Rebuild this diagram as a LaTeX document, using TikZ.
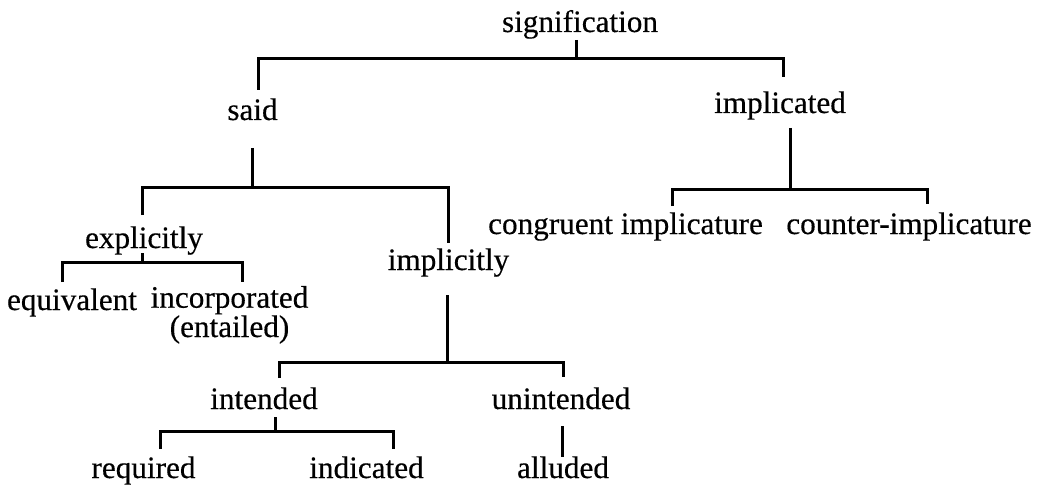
\documentclass[tikz,border=0pt]{standalone}
\usepackage{fontspec}
\setmainfont[FakeBold=0.4]{Liberation Serif}
\usetikzlibrary{calc}
\begin{document}
\begin{tikzpicture}[x=1pt,y=-1pt,
  term/.style={anchor=base,inner sep=0pt,font=\fontsize{31.2}{27}\selectfont},
  branch/.style={line width=3pt,line join=miter,line cap=butt}]
\useasboundingbox (0,0) rectangle (1040,489);

% terms (placed on their baselines; a two-line term sits on its last line)
\node[term] (sig)   at (580,32)   {signification};
\node[term] (said)  at (252.5,120) {said};
\node[term] (impl)  at (780,113)  {implicated};
\node[term] (cong)  at (625.5,234) {congruent implicature};
\node[term] (cnt)   at (909,234)  {counter-implicature};
\node[term] (expl)  at (144,248)  {explicitly};
\node[term] (impy)  at (448.5,270) {implicitly};
\node[term] (equ)   at (72,310)   {equivalent};
\node[term,align=center] (inc) at (229.5,337) {incorporated\\(entailed)};
\node[term] (int)   at (264,409)  {intended};
\node[term] (unint) at (561,409)  {unintended};
\node[term] (req)   at (143.5,478) {required};
\node[term] (ind)   at (366.5,478) {indicated};
\node[term] (all)   at (563,478)  {alluded};

% junctions where each stem meets its bar
\coordinate (j-sig)  at (576,59);
\coordinate (j-said) at (252,187);
\coordinate (j-impl) at (790,189);
\coordinate (j-expl) at (142,262);
\coordinate (j-impy) at (447,362);
\coordinate (j-int)  at (275,431);

% lower ends of the drops
\coordinate (t-said)  at (258,90);
\coordinate (t-impl)  at (783,77);
\coordinate (t-expl)  at (142,215);
\coordinate (t-impy)  at (448,243);
\coordinate (t-cong)  at (672,206);
\coordinate (t-cnt)   at (927,204);
\coordinate (t-equ)   at (62,282);
\coordinate (t-inc)   at (242,282);
\coordinate (t-int)   at (279,378);
\coordinate (t-unint) at (563,377);
\coordinate (t-req)   at (160,449);
\coordinate (t-ind)   at (393,449);

% signification
\draw[branch] ($(sig.base -| j-sig)+(0,8)$) -- (j-sig);
\draw[branch] (t-said) |- (j-sig) -| (t-impl);
% said
\draw[branch] ($(said.base -| j-said)+(0,28)$) -- (j-said);
\draw[branch] (t-expl) |- (j-said) -| (t-impy);
% implicated
\draw[branch] ($(impl.base -| j-impl)+(0,15)$) -- (j-impl);
\draw[branch] (t-cong) |- (j-impl) -| (t-cnt);
% explicitly
\draw[branch] ($(expl.base -| j-expl)+(0,5)$) -- (j-expl);
\draw[branch] (t-equ) |- (j-expl) -| (t-inc);
% implicitly
\draw[branch] ($(impy.base -| j-impy)+(0,25)$) -- (j-impy);
\draw[branch] (t-int) |- (j-impy) -| (t-unint);
% intended
\draw[branch] ($(int.base -| j-int)+(0,8)$) -- (j-int);
\draw[branch] (t-req) |- (j-int) -| (t-ind);
% unintended
\draw[branch] ($(unint.base)+(1,17)$) -- ($(all.base)+(-1,-21)$);
\end{tikzpicture}
\end{document}
